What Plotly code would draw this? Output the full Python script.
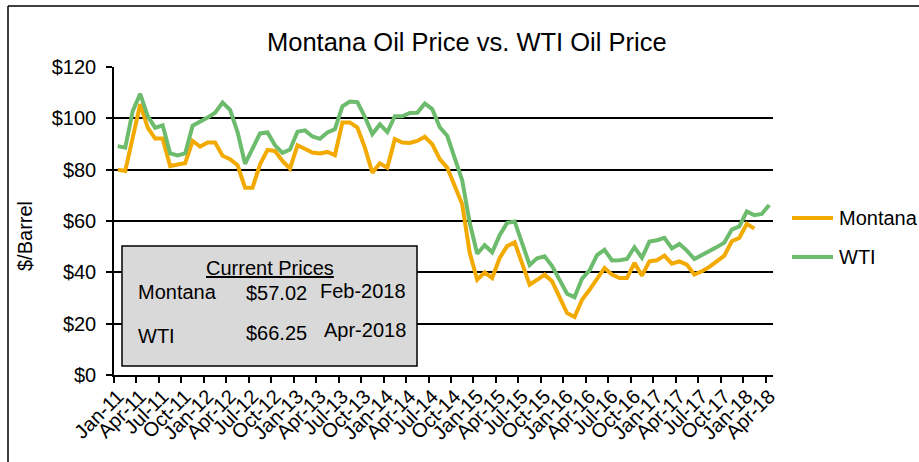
import plotly.graph_objects as go
import pandas as pd

# ---------------- data ----------------
months = [d.strftime("%b-%y") for d in pd.date_range("2011-01-01", "2018-04-01", freq="MS")]

tick_labels = ["Jan-11", "Apr-11", "Jul-11", "Oct-11", "Jan-12", "Apr-12", "Jul-12", "Oct-12",
               "Jan-13", "Apr-13", "Jul-13", "Oct-13", "Jan-14", "Apr-14", "Jul-14", "Oct-14",
               "Jan-15", "Apr-15", "Jul-15", "Oct-15", "Jan-16", "Apr-16", "Jul-16", "Oct-16",
               "Jan-17", "Apr-17", "Jul-17", "Oct-17", "Jan-18", "Apr-18"]

y_ticks = [0, 20, 40, 60, 80, 100, 120]
y_tick_labels = ["$0", "$20", "$40", "$60", "$80", "$100", "$120"]

wti = [89.17, 88.58, 102.86, 109.53, 100.90, 96.26, 97.30, 86.33, 85.52, 86.32, 97.16, 98.56,
       100.27, 102.20, 106.16, 103.32, 94.66, 82.30, 87.90, 94.13, 94.51, 89.49, 86.53, 87.86,
       94.76, 95.31, 92.94, 92.02, 94.51, 95.77, 104.67, 106.57, 106.29, 100.54, 93.86, 97.63,
       94.62, 100.82, 100.80, 102.07, 102.18, 105.79, 103.59, 96.54, 93.21, 84.40, 75.79, 59.29,
       47.22, 50.58, 47.82, 54.45, 59.27, 59.82, 50.90, 42.87, 45.48, 46.22, 42.44, 37.19,
       31.68, 30.32, 37.55, 40.75, 46.71, 48.76, 44.65, 44.72, 45.18, 49.78, 45.66, 51.97,
       52.50, 53.47, 49.33, 51.06, 48.48, 45.18, 46.63, 48.04, 49.82, 51.58, 56.64, 57.88,
       63.70, 62.23, 62.73, 66.25]

montana = [80.0, 79.5, 92.5, 105.5, 96.4, 92.1, 92.1, 81.4, 82.0, 82.5, 91.2, 89.0,
           90.6, 90.6, 85.4, 84.1, 81.7, 73.0, 73.0, 82.1, 87.7, 87.3, 83.4, 80.4,
           89.5, 88.2, 86.7, 86.3, 86.9, 85.6, 98.4, 98.4, 96.4, 88.6, 78.8, 82.5,
           80.8, 91.9, 90.6, 90.4, 91.2, 92.8, 89.9, 84.1, 80.8, 73.6, 66.5, 47.6,
           37.1, 40.0, 37.8, 45.6, 50.2, 51.7, 43.0, 35.2, 37.1, 39.1, 36.5, 30.6,
           24.1, 22.6, 29.3, 33.2, 37.8, 41.7, 39.1, 37.8, 37.8, 43.7, 38.7, 44.3,
           44.7, 46.5, 43.4, 44.3, 43.0, 39.1, 40.4, 42.1, 44.3, 46.5, 52.1, 53.4,
           58.9, 57.02]

series_names = ["Montana", "WTI"]
current_prices = ["$57.02", "$66.25"]
current_dates = ["Feb-2018", "Apr-2018"]

# ---------------- style ----------------
FONT = "Liberation Sans, Arial, sans-serif"
ORANGE = "#F2AA00"
GREEN = "#6DBB6D"
W, H = 919, 462
ML, MR, MT, MB = 114, 146, 67, 87
PW, PH = W - ML - MR, H - MT - MB


def px(x):
    return (x - ML) / PW


def py(y):
    return (H - MB - y) / PH


xi = list(range(len(months)))

fig = go.Figure()
fig.add_trace(go.Scatter(x=xi[:len(montana)], y=montana, name=series_names[0], mode="lines",
                         line=dict(color=ORANGE, width=4), customdata=months[:len(montana)],
                         hovertemplate="%{customdata}: $%{y:.2f}<extra>Montana</extra>",
                         showlegend=False))
fig.add_trace(go.Scatter(x=xi, y=wti, name=series_names[1], mode="lines",
                         line=dict(color=GREEN, width=4), customdata=months,
                         hovertemplate="%{customdata}: $%{y:.2f}<extra>WTI</extra>",
                         showlegend=False))

fig.update_layout(
    width=W, height=H,
    margin=dict(l=ML, r=MR, t=MT, b=MB),
    paper_bgcolor="white", plot_bgcolor="white",
    font=dict(family=FONT, color="black"),
)

fig.update_xaxes(
    range=[-0.5, len(months) - 0.5],
    tickmode="array", tickvals=[months.index(t) for t in tick_labels], ticktext=tick_labels,
    tickangle=-45, tickfont=dict(size=20, family=FONT),
    ticks="", showgrid=False, zeroline=False,
    showline=True, linecolor="black", linewidth=1.5,
    minor=dict(tick0=-0.5, dtick=3, ticks="outside", ticklen=6, tickcolor="black", tickwidth=1.5,
               showgrid=False),
)
fig.update_yaxes(
    range=[0, 120], tickmode="array", tickvals=y_ticks, ticktext=y_tick_labels,
    tickfont=dict(size=20, family=FONT),
    ticks="outside", ticklen=6, tickcolor="black", tickwidth=1.5,
    showgrid=True, gridcolor="black", gridwidth=1.5, zeroline=False,
    showline=True, linecolor="black", linewidth=1.5,
    ticklabelstandoff=6,
)

shapes = []
annotations = []

# chart border (left & top)
shapes.append(dict(type="line", xref="paper", yref="paper", x0=px(8), x1=px(8), y0=py(6), y1=py(470),
                   line=dict(color="black", width=1.5)))
shapes.append(dict(type="line", xref="paper", yref="paper", x0=px(8), x1=px(930), y0=py(6), y1=py(6),
                   line=dict(color="black", width=1.5)))

# title
annotations.append(dict(text="Montana Oil Price vs. WTI Oil Price", xref="paper", yref="paper",
                        x=px(467), y=py(42), xanchor="center", yanchor="middle", showarrow=False,
                        font=dict(size=25.5, family=FONT)))
# y axis title
annotations.append(dict(text="$/Barrel", xref="paper", yref="paper", x=px(25), y=py(236),
                        xanchor="center", yanchor="middle", textangle=-90, showarrow=False,
                        font=dict(size=20, family=FONT)))

# legend (manual)
for name, color, yc in [(series_names[0], ORANGE, 218), (series_names[1], GREEN, 257)]:
    shapes.append(dict(type="line", xref="paper", yref="paper", x0=px(792), x1=px(833),
                       y0=py(yc), y1=py(yc), line=dict(color=color, width=4)))
    annotations.append(dict(text=name, xref="paper", yref="paper", x=px(837), y=py(yc),
                            xanchor="left", yanchor="middle", showarrow=False,
                            font=dict(size=20, family=FONT)))

# current prices box
shapes.append(dict(type="rect", xref="paper", yref="paper", x0=px(122), x1=px(417),
                   y0=py(366), y1=py(246), fillcolor="#D9D9D9", line=dict(color="black", width=1.5)))
annotations.append(dict(text="<u>Current Prices</u>", xref="paper", yref="paper", x=px(270), y=py(268),
                        xanchor="center", yanchor="middle", showarrow=False, font=dict(size=20, family=FONT)))
rows = [(series_names[0], current_prices[0], current_dates[0], 292, 293, 291),
        (series_names[1], current_prices[1], current_dates[1], 336, 333, 330)]
for name, price, date, y1, y2, y3 in rows:
    annotations.append(dict(text=name, xref="paper", yref="paper", x=px(136), y=py(y1),
                            xanchor="left", yanchor="middle", showarrow=False, font=dict(size=20, family=FONT)))
    annotations.append(dict(text=price, xref="paper", yref="paper", x=px(244), y=py(y2),
                            xanchor="left", yanchor="middle", showarrow=False, font=dict(size=20, family=FONT)))
    annotations.append(dict(text=date, xref="paper", yref="paper", x=px(408), y=py(y3),
                            xanchor="right", yanchor="middle", showarrow=False, font=dict(size=20, family=FONT)))

fig.update_layout(shapes=shapes, annotations=annotations)
fig.write_html("out.html", config={"displayModeBar": False},
               post_script="document.body.style.margin='0';document.body.style.overflow='hidden';")
